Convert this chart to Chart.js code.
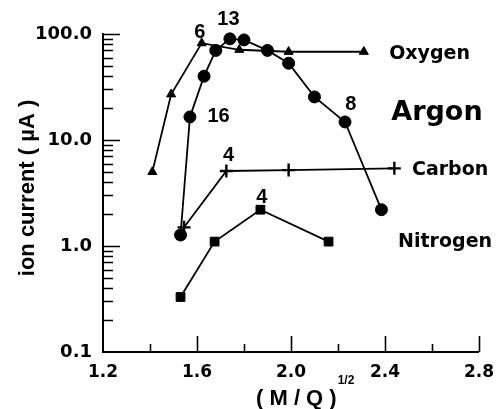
<!DOCTYPE html>
<html>
<head>
<meta charset="utf-8">
<script src="https://cdn.jsdelivr.net/npm/chart.js@4.4.1/dist/chart.umd.min.js"></script>
<style>
  html, body { margin: 0; padding: 0; background: #fff; }
  #wrap { width: 504px; height: 409px; position: relative; }
</style>
</head>
<body>
<div id="wrap"><canvas id="chart"></canvas></div>
<script>
// ── Data ──
const oxygenX = [1.41, 1.49, 1.62, 1.78, 1.99, 2.31];
const oxygenY = [5.0, 27, 82, 71, 68, 68];

const argonX = [1.53, 1.57, 1.63, 1.68, 1.74, 1.8, 1.9, 1.99, 2.1, 2.23, 2.385];
const argonY = [1.27, 16.5, 40, 70, 90, 88, 70, 53, 25.5, 14.8, 2.2];

const carbonX = [1.545, 1.725, 1.99, 2.44];
const carbonY = [1.5, 5.1, 5.2, 5.4];

const nitrogenX = [1.53, 1.675, 1.87, 2.16];
const nitrogenY = [0.33, 1.1, 2.2, 1.1];

const yTicks = [0.1, 1, 10, 100];
const xMajor = [1.6, 2.0, 2.4, 2.8];
const xMinor = [1.4, 1.8, 2.2, 2.6];

// charge-state numbers next to the curves
const chargeLabels = ["6", "13", "16", "8", "4", "4"];
const chargeX = [1.612, 1.734, 1.692, 2.255, 1.734, 1.876];
const chargeY = [104, 137, 16.5, 21.5, 7.2, 2.9];

// element names
const nameLabels = ["Oxygen", "Argon", "Carbon", "Nitrogen"];
const nameX = [2.418, 2.427, 2.515, 2.456];
const nameY = [58, 15.4, 4.7, 0.98];

const TEXT_FONT = "'Liberation Sans', Arial, sans-serif";
const NUM_FONT = "'DejaVu Sans', sans-serif";

function pairs(xs, ys) {
  return xs.map((x, i) => ({ x: x, y: ys[i] }));
}

function series(label, xs, ys, style, radius) {
  return {
    label: label,
    data: pairs(xs, ys),
    borderColor: "#000",
    backgroundColor: "#000",
    borderWidth: 1.8,
    pointStyle: style,
    pointRadius: radius,
    pointBorderWidth: style === "cross" ? 2.4 : 1,
    tension: 0,
    clip: false,
  };
}

// ── inward ticks + titles + annotations ──
const decorPlugin = {
  id: "decor",
  afterDraw(chart) {
    const ctx = chart.ctx;
    const xs = chart.scales.x;
    const ys = chart.scales.y;
    const left = xs.left;
    const bottom = ys.bottom;

    ctx.save();
    ctx.strokeStyle = "#000";
    ctx.lineWidth = 1.6;
    ctx.beginPath();
    // y ticks, pointing right
    [0.1, 1, 10].forEach((d) => {
      for (let k = 2; k <= 9; k++) {
        const py = Math.round(ys.getPixelForValue(k * d)) + 0.5;
        ctx.moveTo(left, py);
        ctx.lineTo(left + 10, py);
      }
    });
    [1, 10, 100].forEach((v) => {
      const py = Math.round(ys.getPixelForValue(v)) + 0.5;
      ctx.moveTo(left, py);
      ctx.lineTo(left + 17, py);
    });
    // x ticks, pointing up
    xMinor.forEach((v) => {
      const px = Math.round(xs.getPixelForValue(v)) + 0.5;
      ctx.moveTo(px, bottom);
      ctx.lineTo(px, bottom - 8);
    });
    xMajor.forEach((v) => {
      const px = Math.round(xs.getPixelForValue(v)) + 0.5;
      ctx.moveTo(px, bottom);
      ctx.lineTo(px, bottom - 16);
    });
    ctx.stroke();

    ctx.fillStyle = "#000";

    // charge numbers
    ctx.font = "bold 20px " + TEXT_FONT;
    ctx.textAlign = "center";
    ctx.textBaseline = "middle";
    chargeLabels.forEach((t, i) => {
      ctx.fillText(t, xs.getPixelForValue(chargeX[i]), ys.getPixelForValue(chargeY[i]));
    });

    // element names
    ctx.textAlign = "left";
    ctx.textBaseline = "alphabetic";
    nameLabels.forEach((t, i) => {
      ctx.font = t === "Argon" ? "bold 27px " + NUM_FONT : "bold 19px " + NUM_FONT;
      ctx.fillText(t, xs.getPixelForValue(nameX[i]), ys.getPixelForValue(nameY[i]));
    });

    // y title
    ctx.save();
    ctx.translate(34, 188);
    ctx.rotate(-Math.PI / 2);
    ctx.font = "bold 22px " + TEXT_FONT;
    ctx.textAlign = "center";
    ctx.fillText("ion current ( µA )", 0, 0);
    ctx.restore();

    // x title with superscript
    ctx.font = "bold 22px " + TEXT_FONT;
    ctx.textAlign = "left";
    const main = "( M / Q )";
    const w = ctx.measureText(main).width;
    const x0 = 256;
    ctx.fillText(main, x0, 405);
    ctx.font = "bold 12px " + TEXT_FONT;
    ctx.fillText("1/2", x0 + w + 1, 384);

    ctx.restore();
  },
};

new Chart(document.getElementById("chart"), {
  type: "line",
  data: {
    datasets: [
      series("Oxygen", oxygenX, oxygenY, "triangle", 5.2),
      series("Argon", argonX, argonY, "circle", 6),
      series("Carbon", carbonX, carbonY, "cross", 6.5),
      series("Nitrogen", nitrogenX, nitrogenY, "rect", 6.2),
    ],
  },
  options: {
    responsive: true,
    maintainAspectRatio: false,
    animation: false,
    layout: { padding: { top: 34, right: 20, left: 0, bottom: 0 } },
    plugins: {
      legend: { display: false },
      tooltip: { enabled: false },
    },
    scales: {
      x: {
        type: "linear",
        min: 1.2,
        max: 2.8,
        afterFit: (s) => { s.height = 57; },
        grid: { display: false, drawTicks: false },
        border: { display: true, color: "#000", width: 2 },
        ticks: {
          stepSize: 0.4,
          padding: 10,
          color: "#000",
          font: { family: NUM_FONT, size: 17, weight: "bold" },
          callback: (v) => Number(v).toFixed(1),
        },
      },
      y: {
        type: "logarithmic",
        min: 0.1,
        max: 100,
        afterFit: (s) => { s.width = 103; },
        afterBuildTicks: (s) => { s.ticks = yTicks.map((v) => ({ value: v })); },
        grid: { display: false, drawTicks: false },
        border: { display: true, color: "#000", width: 2 },
        ticks: {
          padding: 11,
          color: "#000",
          autoSkip: false,
          font: { family: NUM_FONT, size: 18, weight: "bold" },
          callback: (v) => Number(v).toFixed(1),
        },
      },
    },
  },
  plugins: [decorPlugin],
});
</script>
</body>
</html>
